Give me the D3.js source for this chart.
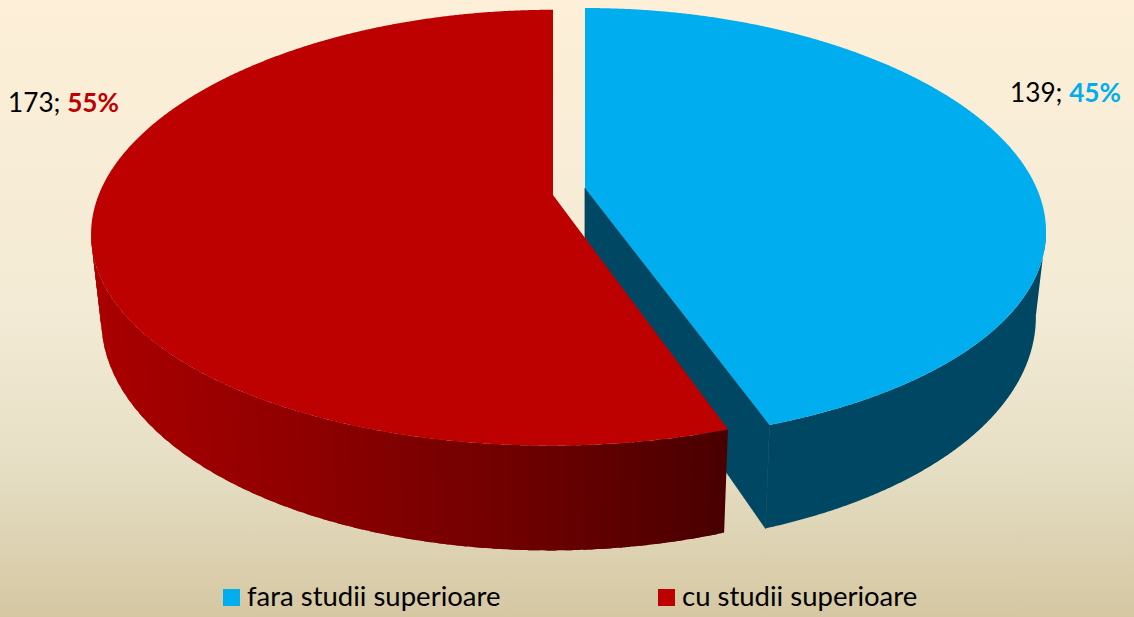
<!DOCTYPE html>
<html><head><meta charset="utf-8">
<script src="https://cdn.jsdelivr.net/npm/d3@7"></script>
<style>html,body{margin:0;padding:0;background:#fff}svg{display:block}text{font-family:Lato,"Open Sans",sans-serif}</style>
</head><body><svg id="c" width="1134" height="617"></svg>
<script>
const categories = ["fara studii superioare", "cu studii superioare"];
const counts = [139, 173];
const percents = ["45%", "55%"];
const topColors = ["#00aeef", "#bd0000"];
const wallBlue = "#004763";
const wallRed = ["#aa0000", "#8f0000", "#6e0000", "#4a0000"];
const bgStops = [[0, "#fdefd8"], [.5, "#f3ebd5"], [.75, "#e6dfc5"], [1, "#d5c7a2"]];

const W = 1134, H = 617;
const svg = d3.select("#c");
const grad = svg.append("defs").append("linearGradient").attr("id", "bg").attr("x1", 0).attr("x2", 0).attr("y1", 0).attr("y2", 1);
bgStops.forEach(s => grad.append("stop").attr("offset", s[0]).attr("stop-color", s[1]));
svg.append("rect").attr("width", W).attr("height", H).attr("fill", "url(#bg)");

// projection of the tilted disc, one set of constants per exploded slice
const A = [452, 455], B = [210.6, 213], k = [0.17, 0.15], shear = [4, -3], sag = 6;
const baseDrop = 81, baseSx = 0.978, baseSy = 1.095;
const apex = [[585, 188], [553, 195]];
function rim(i, a, base) {
  const X = Math.sin(a), Y = Math.cos(a), w = 1 + k[i] * Y;
  const dx = A[i] * X / w + shear[i] * (1 - Y) / 2, dy = -B[i] * Y / w + sag * X * X;
  return base ? [apex[i][0] + baseSx * dx, apex[i][1] + baseDrop + baseSy * dy]
              : [apex[i][0] + dx, apex[i][1] + dy];
}
const pie = d3.pie().sort(null).value(d => d)(counts);
const line = d3.line();
const step = 2 * Math.PI / 180;
const redShade = d3.scaleLinear().domain([90, 300, 520, 725]).range(wallRed).clamp(true);
const dense = (a, b) => d3.range(a, b, 0.004).concat([b]);
const band = (i, a, b) => dense(a, b).map(t => rim(i, t, false)).concat(dense(a, b).reverse().map(t => rim(i, t, true)));

const g = svg.append("g");
function drawTop(i, p) {
  const pts = [apex[i]].concat(dense(p.startAngle, p.endAngle).map(t => rim(i, t, false)));
  g.append("path").attr("d", line(pts) + "Z").attr("fill", topColors[i]);
}
// walls start at the silhouette angle of each slice
const frontFrom = Math.PI / 2 + Math.asin(k[0]), frontTo = 3 * Math.PI / 2 - Math.asin(k[1]);
const apexBase = [apex[0][0], apex[0][1] + baseDrop];
g.append("path").attr("d", line(band(0, frontFrom, pie[0].endAngle)) + "Z").attr("fill", wallBlue);
g.append("path").attr("d", line([apex[0], rim(0, pie[0].endAngle, false), rim(0, pie[0].endAngle, true), apexBase]) + "Z")
  .attr("fill", wallBlue).attr("stroke", wallBlue).attr("stroke-width", 0.8);
drawTop(0, pie[0]);
// red slice: shaded bands painted left to right, each overlapping the next
const as = d3.range(pie[1].startAngle, frontTo, step).concat([frontTo]).reverse();
as.slice(0, -1).forEach((a, j) => {
  const b = as[j + 1];
  const pts = band(1, Math.max(b - 0.6 * step, pie[1].startAngle), a);
  const c = redShade((rim(1, a, false)[0] + rim(1, b, false)[0]) / 2);
  g.append("path").attr("d", line(pts) + "Z").attr("fill", c);
});
drawTop(1, pie[1]);

// data labels
const labelPos = [[1010, 102], [8, 112]];
counts.forEach((v, i) => {
  const t = svg.append("text").attr("x", labelPos[i][0]).attr("y", labelPos[i][1]).attr("font-size", 26.2).attr("fill", "#000");
  t.append("tspan").text(v + "; ");
  t.append("tspan").attr("font-weight", 700).attr("fill", topColors[i]).text(percents[i]);
});
// legend
const legX = [223, 658];
categories.forEach((c, i) => {
  svg.append("rect").attr("x", legX[i]).attr("y", 589).attr("width", 17).attr("height", 17).attr("fill", topColors[i]);
  svg.append("text").attr("x", legX[i] + 24).attr("y", 606).attr("font-size", 27.5).attr("fill", "#000").text(c);
});
</script></body></html>
